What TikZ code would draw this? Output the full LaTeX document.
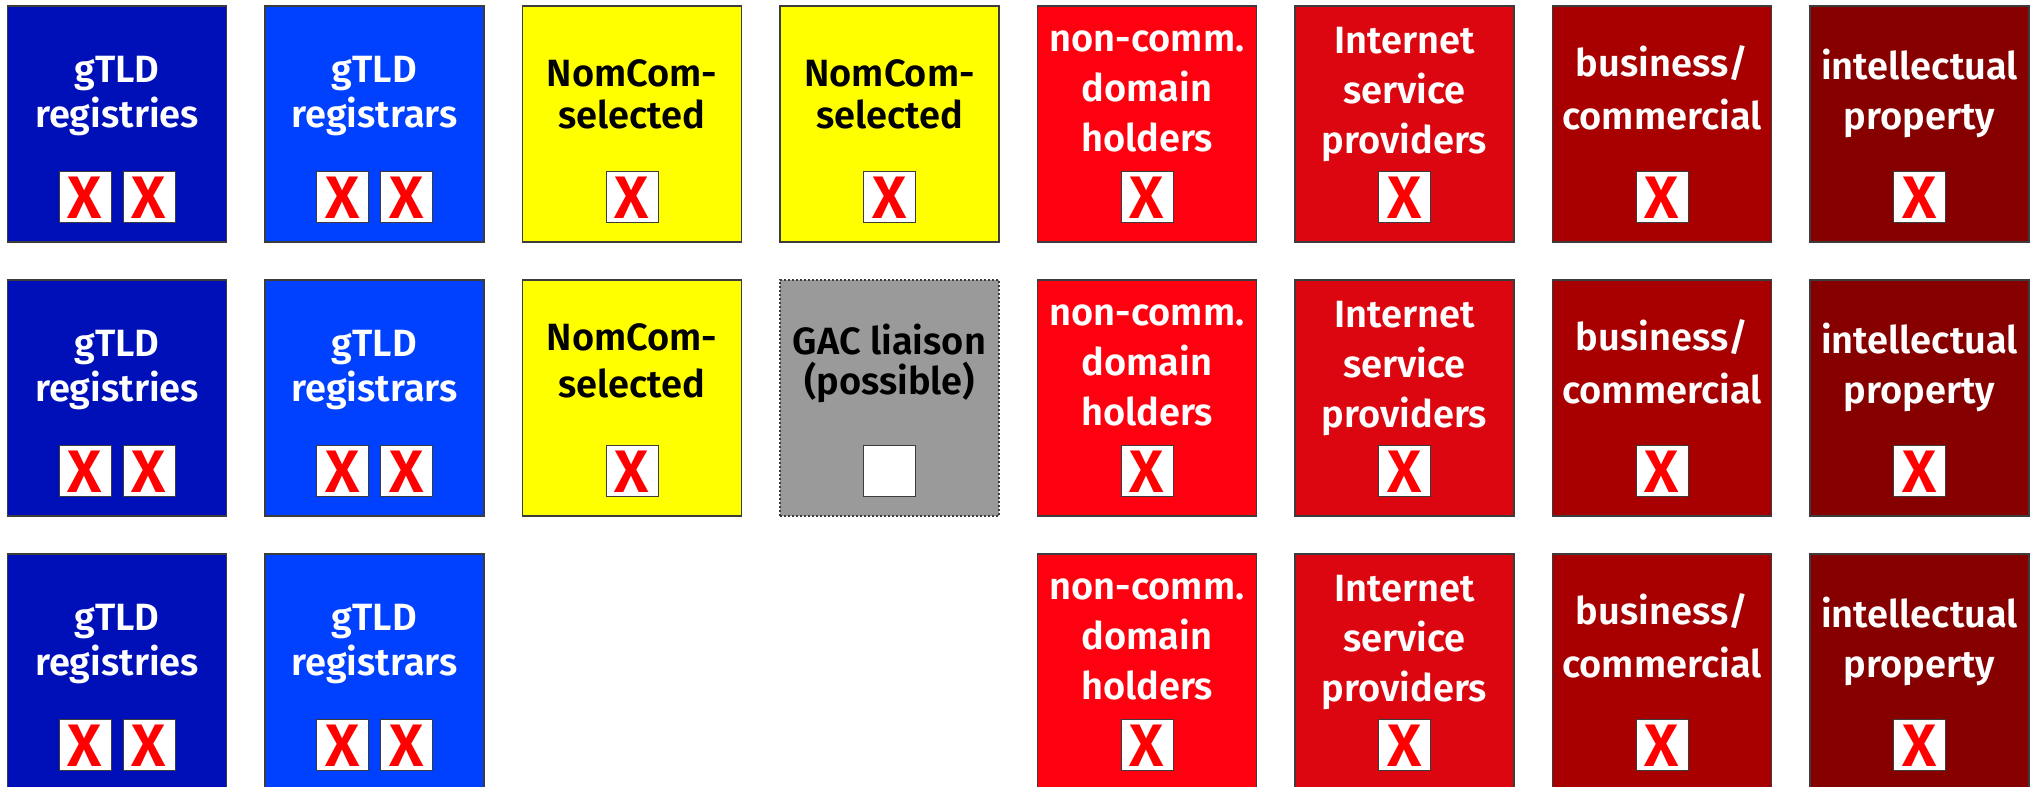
\documentclass[tikz,border=0pt]{standalone}
\usepackage{fontspec}
\setmainfont{Fira Sans}[BoldFont={Fira Sans SemiBold}]
\usetikzlibrary{positioning}

\definecolor{registryblue}{HTML}{0010B8}
\definecolor{registrarblue}{HTML}{0040FF}
\definecolor{nomyellow}{HTML}{FFFF00}
\definecolor{liaisongray}{HTML}{9A9A9A}
\definecolor{noncommred}{HTML}{FF0010}
\definecolor{ispred}{HTML}{DC0610}
\definecolor{bizred}{HTML}{A80000}
\definecolor{ipred}{HTML}{860000}
\definecolor{edgegray}{HTML}{3C3C3C}

\tikzset{
  seat/.style={draw=edgegray, line width=0.6pt, minimum width=109.5pt, minimum height=118pt, inner sep=0pt},
  seatlabel/.style={align=center, inner sep=0pt, font=\fontsize{19}{25}\selectfont\bfseries,
    execute at begin node=\strut, execute at end node=\strut},
  vote/.style={draw=edgegray, line width=0.5pt, fill=white, minimum width=26pt, minimum height=25.5pt,
    inner sep=0pt, text=red, font=\fontsize{30}{30}\selectfont\bfseries},
}

\begin{document}
\begin{tikzpicture}[x=0.5pt,y=0.5pt]
\useasboundingbox (0,0) rectangle (2035,787);
\clip (0,0) rectangle (2035,787);

%seats that come back in every row
\foreach \r/\y in {1/663,2/389,3/115} {
  \node[seat, fill=registryblue] (reg\r) at (117,\y) {};
  \node[seatlabel, text=white] (reg\r-txt) at ([yshift=12.25pt]reg\r.center) {gTLD\\[-2.5pt]registries};
  \node[vote] (reg\r-v1) at ([xshift=-16pt,yshift=-36.75pt]reg\r.center) {X};
  \node[vote] (reg\r-v2) at ([xshift=16pt,yshift=-36.75pt]reg\r.center) {X};

  \node[seat, fill=registrarblue] (rar\r) at (374.5,\y) {};
  \node[seatlabel, text=white] (rar\r-txt) at ([yshift=12.25pt]rar\r.center) {gTLD\\[-2.5pt]registrars};
  \node[vote] (rar\r-v1) at ([xshift=-16pt,yshift=-36.75pt]rar\r.center) {X};
  \node[vote] (rar\r-v2) at ([xshift=16pt,yshift=-36.75pt]rar\r.center) {X};

  \node[seat, fill=noncommred] (ncd\r) at (1147,\y) {};
  \node[seatlabel, text=white] (ncd\r-txt) at ([yshift=12.5pt]ncd\r.center) {non-comm.\\domain\\holders};
  \node[vote] (ncd\r-v) at ([yshift=-36.75pt]ncd\r.center) {X};

  \node[seat, fill=ispred] (isp\r) at (1404.5,\y) {};
  \node[seatlabel, text=white] (isp\r-txt) at ([yshift=13.25pt]isp\r.center) {Internet\\service\\providers};
  \node[vote] (isp\r-v) at ([yshift=-36.75pt]isp\r.center) {X};

  \node[seat, fill=bizred] (biz\r) at (1662,\y) {};
  \node[seatlabel, text=white] (biz\r-txt) at ([yshift=14.5pt]biz\r.center) {business/\\[1.7pt]commercial};
  \node[vote] (biz\r-v) at ([yshift=-36.75pt]biz\r.center) {X};

  \node[seat, fill=ipred] (ip\r) at (1919.5,\y) {};
  \node[seatlabel, text=white] (ip\r-txt) at ([yshift=13.65pt]ip\r.center) {intellectual\\property};
  \node[vote] (ip\r-v) at ([yshift=-36.75pt]ip\r.center) {X};
}

%NomCom seats, first row
\node[seat, fill=nomyellow] (nomA1) at (632,663) {};
\node[seatlabel] (nomA1-txt) at ([yshift=11.1pt]nomA1.center) {NomCom-\\[-4.2pt]selected};
\node[vote] (nomA1-v) at ([yshift=-36.75pt]nomA1.center) {X};

\node[seat, fill=nomyellow] (nomB1) at (889.5,663) {};
\node[seatlabel] (nomB1-txt) at ([yshift=11.1pt]nomB1.center) {NomCom-\\[-4.2pt]selected};
\node[vote] (nomB1-v) at ([yshift=-36.75pt]nomB1.center) {X};

%second row
\node[seat, fill=nomyellow] (nomA2) at (632,389) {};
\node[seatlabel] (nomA2-txt) at ([yshift=14.85pt]nomA2.center) {NomCom-\\[-1.7pt]selected};
\node[vote] (nomA2-v) at ([yshift=-36.75pt]nomA2.center) {X};

\node[seat, fill=liaisongray, dash pattern=on 1pt off 1pt] (gac2) at (889.5,389) {};
\node[seatlabel] (gac2-txt) at ([yshift=15.6pt]gac2.center) {GAC liaison\\[-5.2pt](possible)};
\node[vote] (gac2-v) at ([yshift=-36.75pt]gac2.center) {};

\end{tikzpicture}
\end{document}
